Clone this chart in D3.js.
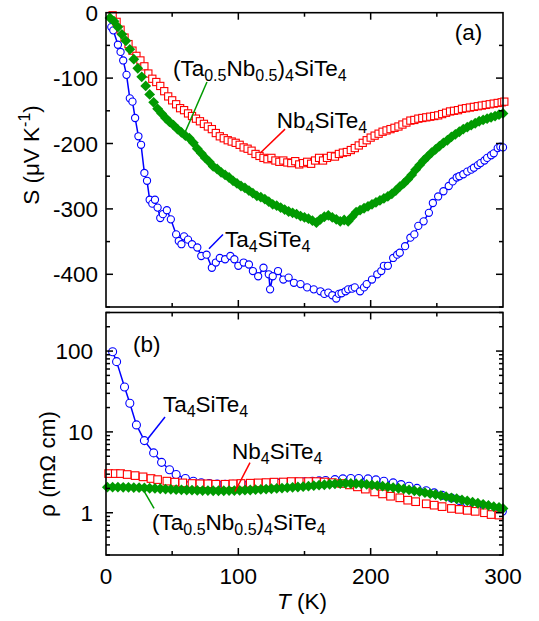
<!DOCTYPE html>
<html><head><meta charset="utf-8">
<script src="https://cdn.jsdelivr.net/npm/d3@7"></script>
<style>body{margin:0;background:#fff}svg{display:block}text{font-family:"Liberation Sans",Arial,sans-serif;fill:#000}</style>
</head><body><svg id="c" width="539" height="621"></svg>
<script>
// ---------- DATA ----------
// Panel (a): Seebeck coefficient S (µV/K) vs T (K)
const nbS_T = [5,8,11,14,17,20,23,26,29,32,35,38,41,44,47,50,53,56,59,62,65,68,71,74,77,80,83,86,89,92,95,98,101,104,107,110,113,116,119,122,125,128,131,134,137,140,143,146,149,152,155,158,161,164,167,170,173,176,179,182,185,188,191,194,197,200,203,206,209,212,215,218,221,224,227,230,233,236,239,242,245,248,251,254,257,260,263,266,269,272,275,278,281,284,287,290,293,296,299,301];
const nbS_V = [-4,-14,-26,-38,-48,-58,-66,-73,-82,-93,-101,-106,-112,-120,-128,-134,-140,-146,-149,-154,-158,-162,-166,-170,-174,-178,-184,-189,-192,-195,-197,-199,-202,-206,-208,-211,-216,-219,-222,-224,-222,-226,-228,-226,-229,-230,-227,-232,-230,-228,-231,-226,-222,-226,-222,-219,-220,-216,-214,-213,-210,-207,-203,-199,-195,-191,-188,-185,-182,-180,-178,-176,-174,-171,-168,-165,-164,-162,-161,-160,-159,-158,-157,-155,-153,-151,-150,-149,-147,-146,-145,-144,-143,-142,-141,-140,-139,-138,-137,-136];

const mixS_T = [3,6,9,12,15,18,21,24,27,30,33,36,39,42,45,48,51,54,57,60,63,66,69,72,75,78,81,84,87,90,93,96,99,102,105,108,111,114,117,120,123,126,129,132,135,138,141,144,147,150,153,156,159,162,165,168,171,174,177,180,183,186,189,192,195,198,201,204,207,210,213,216,219,222,225,228,231,234,237,240,243,246,249,252,255,258,261,264,267,270,273,276,279,282,285,288,291,294,297,300];
const mixS_V = [-8,-13,-22,-33,-43,-56,-71,-85,-98,-112,-125,-137,-147,-154,-161,-167,-172,-178,-183,-188,-192,-199,-208,-215,-222,-228,-235,-239,-244,-248,-252,-257,-261,-265,-268,-272,-276,-280,-282,-285,-289,-293,-295,-298,-301,-304,-306,-308,-311,-313,-315,-318,-321,-316,-312,-310,-313,-316,-319,-317,-319,-312,-305,-302,-299,-296,-293,-290,-287,-284,-281,-277,-272,-266,-261,-255,-248,-240,-233,-226,-220,-214,-209,-204,-199,-195,-190,-186,-182,-178,-175,-172,-169,-166,-164,-162,-160,-158,-156,-154];

const taS_T = [4,5.5,9,11,13,15.5,18,20,22,24.5,26.5,29,31,33,35,37,39,41,43,46,49,53,55,57,59,62,65,69,72,76,80,83,86,90,94,97,100,104,108,111,115,119,123,124,126,130,134,138,142,147,152,157,162,165,168,171,174,176,178,181,183,186,188,192,195,197,201,205,208,210,213,217,220,222,226,230,233,236,240,244,247,251,255,259,262,265,267,270,273,276,278,281,283,286,288,291,293,296,298,300];
const taS_V = [-22,-27,-49,-60,-73,-95,-131,-136,-161,-189,-202,-245,-257,-286,-292,-286,-298,-314,-308,-302,-316,-339,-349,-354,-342,-347,-354,-359,-372,-370,-390,-382,-375,-377,-372,-377,-387,-382,-385,-395,-403,-390,-400,-423,-403,-395,-408,-405,-413,-415,-420,-423,-426,-430,-428,-432,-437,-430,-429,-426,-423,-422,-420,-426,-420,-415,-408,-400,-395,-387,-387,-375,-370,-367,-357,-344,-339,-326,-319,-306,-291,-281,-273,-265,-258,-252,-250,-247,-243,-240,-237,-233,-230,-226,-222,-218,-215,-207,-205,-206];

// Panel (b): resistivity rho (mOhm cm) vs T (K)
const taR_T = [5,8,14,18,23,29,36,42,48,53,60,66,72,78,84,90,96,102,108,114,120,126,132,138,144,150,156,161,166,173,179,185,191,198,204,210,217,223,229,235,242,248,254,261,267,273,279,286,292,299.5];
const taR_V = [98,74,36,22.6,12.2,7.8,5.5,4.2,3.4,2.97,2.65,2.45,2.35,2.3,2.27,2.25,2.25,2.27,2.28,2.3,2.32,2.34,2.36,2.38,2.4,2.42,2.45,2.48,2.5,2.57,2.62,2.65,2.65,2.62,2.55,2.45,2.34,2.23,2.13,2.0,1.87,1.76,1.64,1.52,1.42,1.33,1.24,1.19,1.12,1.04];

const nbR_T = [2,7,11,16,22,28,34,39,46,52,58,65,71,77,83,90,96,102,109,115,121,127,134,140,146,153,159,165,171,178,184,190,196,203,209,215,222,228,234,242,248,254,261,267,273,279,286,291,297];
const nbR_V = [3.05,3.05,3.05,2.97,2.88,2.78,2.65,2.57,2.46,2.39,2.34,2.3,2.28,2.28,2.25,2.25,2.28,2.3,2.32,2.34,2.36,2.39,2.4,2.43,2.43,2.43,2.43,2.4,2.36,2.3,2.21,2.09,1.96,1.81,1.71,1.6,1.53,1.43,1.37,1.29,1.24,1.19,1.13,1.1,1.07,1.04,1.0,0.95,0.935];

const mixR_T = [1,5,9,13,17,21,25,29,33,37,41,45,49,53,57,61,65,69,73,77,81,85,89,93,97,101,105,109,113,117,121,125,129,133,137,141,145,149,153,157,161,165,169,173,177,181,185,189,193,197,201,205,209,213,217,221,225,229,233,237,241,245,249,253,257,261,265,269,273,277,281,285,289,293,297,300];
const mixR_V = [2.07,2.07,2.07,2.06,2.06,2.05,2.04,2.03,2.01,2.0,1.98,1.96,1.95,1.93,1.92,1.91,1.9,1.89,1.88,1.88,1.87,1.87,1.87,1.88,1.88,1.89,1.9,1.91,1.93,1.94,1.96,1.98,2.0,2.02,2.04,2.06,2.08,2.1,2.13,2.16,2.19,2.22,2.25,2.28,2.3,2.31,2.3,2.29,2.27,2.24,2.21,2.17,2.13,2.09,2.05,2.01,1.97,1.92,1.87,1.82,1.77,1.72,1.68,1.63,1.58,1.53,1.49,1.44,1.4,1.35,1.31,1.27,1.23,1.19,1.16,1.13];

// Tick labels
const xTicks = [0,100,200,300];
const sTicks = [0,-100,-200,-300,-400];
const rTicks = [1,10,100];

// Label texts ([text, subscript?])
const lblMix = [["(Ta",0],["0.5",1],["Nb",0],["0.5",1],[")",0],["4",1],["SiTe",0],["4",1]];
const lblNb = [["Nb",0],["4",1],["SiTe",0],["4",1]];
const lblTa = [["Ta",0],["4",1],["SiTe",0],["4",1]];

// Annotation anchors in data coordinates
const annA = {panel:[274,-42], mix:[50.6,-97], mixLine:[[76.3,-106],[58.2,-190]], nb:[129,-176], nbLine:[[135.3,-178],[116.4,-215]], ta:[90,-359], taLine:[[88.4,-339],[77.8,-361]]};
const annB = {panel:[20.4,97], ta:[43,17.7], taLine:[[44.6,15.3],[31,8.0]], nb:[95.2,4.66], nbLine:[[108.8,4.16],[97.5,1.83]], mix:[34.8,0.62], mixLine:[[28,1.94],[36.3,1.13]]};

// ---------- DRAW ----------
const svg = d3.select("#c");
const RED="#ff0000", GREEN="#009a00", BLUE="#0000ff";
const FS=22.5, SUB=16;
const x = d3.scaleLinear().domain([0,300]).range([106,503]);
const yS = d3.scaleLinear().domain([-450,0]).range([307,12.7]);
const yR = d3.scaleLog().domain([0.3,300]).range([555,312.5]);

function zip(a,b){return a.map((v,i)=>[v,b[i]]);}

function label(g, px, py, parts, anchor){
  const t = g.append("text").attr("x",px).attr("y",py).attr("font-size",FS).attr("text-anchor",anchor||"start");
  let shifted=false;
  parts.forEach(([s,sub])=>{
    const ts=t.append("tspan").text(s);
    if(sub){ts.attr("font-size",SUB); if(!shifted){ts.attr("dy",5);shifted=true;}}
    else { if(shifted){ts.attr("dy",-5);shifted=false;} }
  });
  return t;
}

function frame(yScale, y0, y1, majorsY, minorsY){
  const g = svg.append("g");
  const xMaj=[100,200], xMin=[50,150,250];
  const ticks=[];
  xMaj.forEach(v=>{ticks.push([x(v),y1,x(v),y1-7]);ticks.push([x(v),y0,x(v),y0+7]);});
  xMin.forEach(v=>{ticks.push([x(v),y1,x(v),y1-4]);ticks.push([x(v),y0,x(v),y0+4]);});
  majorsY.forEach(v=>{const yy=yScale(v);ticks.push([106,yy,113,yy]);ticks.push([503,yy,496,yy]);});
  minorsY.forEach(v=>{const yy=yScale(v);ticks.push([106,yy,110,yy]);ticks.push([503,yy,499,yy]);});
  g.selectAll("line").data(ticks).join("line")
    .attr("x1",d=>d[0]).attr("y1",d=>d[1]).attr("x2",d=>d[2]).attr("y2",d=>d[3])
    .attr("stroke","#000").attr("stroke-width",1.5);
  g.append("rect").attr("x",106).attr("y",y0).attr("width",397).attr("height",y1-y0)
    .attr("fill","none").attr("stroke","#000").attr("stroke-width",1.6);
}

// ---- Panel (a)
const gA = svg.append("g");
const taS = zip(taS_T,taS_V);
gA.append("path").datum(taS).attr("d",d3.line().x(d=>x(d[0])).y(d=>yS(d[1])))
  .attr("fill","none").attr("stroke",BLUE).attr("stroke-width",1.5);
gA.selectAll("circle.ta").data(taS).join("circle").attr("class","ta")
  .attr("cx",d=>x(d[0])).attr("cy",d=>yS(d[1])).attr("r",3.6)
  .attr("fill","#fff").attr("stroke",BLUE).attr("stroke-width",1.1);
const nbS = zip(nbS_T,nbS_V);
gA.selectAll("rect.nb").data(nbS).join("rect").attr("class","nb")
  .attr("x",d=>x(d[0])-3.6).attr("y",d=>yS(d[1])-3.6).attr("width",7.2).attr("height",7.2)
  .attr("fill","#fff").attr("stroke",RED).attr("stroke-width",1.1);
const diamond = "M0,-5.4L5.4,0L0,5.4L-5.4,0Z";
const mixS = zip(mixS_T,mixS_V);
gA.selectAll("path.mix").data(mixS).join("path").attr("class","mix")
  .attr("transform",d=>`translate(${x(d[0])},${yS(d[1])})`).attr("d",diamond).attr("fill",GREEN);

frame(yS, 12.7, 307, [-400,-300,-200,-100], [-450,-350,-250,-150,-50]);

gA.selectAll("text.yt").data(sTicks).join("text").attr("class","yt")
  .attr("x",98).attr("y",d=>yS(d)).attr("dy","0.36em").attr("text-anchor","end").attr("font-size",FS).text(d=>d);

label(gA, x(annA.panel[0]), yS(annA.panel[1]), [["(a)",0]], "middle");
label(gA, x(annA.mix[0]), yS(annA.mix[1]), lblMix);
label(gA, x(annA.nb[0]), yS(annA.nb[1]), lblNb);
label(gA, x(annA.ta[0]), yS(annA.ta[1]), lblTa);
[[annA.mixLine,GREEN],[annA.nbLine,RED],[annA.taLine,BLUE]].forEach(([l,c])=>{
  gA.append("line").attr("x1",x(l[0][0])).attr("y1",yS(l[0][1])).attr("x2",x(l[1][0])).attr("y2",yS(l[1][1]))
    .attr("stroke",c).attr("stroke-width",1.5);
});
const ya = gA.append("text").attr("transform","translate(39,155) rotate(-90)").attr("text-anchor","middle").attr("font-size",FS);
ya.append("tspan").text("S (μV K");
ya.append("tspan").attr("font-size",SUB).attr("dy",-9).text("-1");
ya.append("tspan").attr("dy",9).text(")");

// ---- Panel (b)
const gB = svg.append("g");
const taR = zip(taR_T,taR_V);
gB.append("path").datum(taR).attr("d",d3.line().x(d=>x(d[0])).y(d=>yR(d[1])))
  .attr("fill","none").attr("stroke",BLUE).attr("stroke-width",1.5);
gB.selectAll("circle.ta").data(taR).join("circle").attr("class","ta")
  .attr("cx",d=>x(d[0])).attr("cy",d=>yR(d[1])).attr("r",4)
  .attr("fill","#fff").attr("stroke",BLUE).attr("stroke-width",1.1);
const nbR = zip(nbR_T,nbR_V);
gB.selectAll("rect.nb").data(nbR).join("rect").attr("class","nb")
  .attr("x",d=>x(d[0])-3.8).attr("y",d=>yR(d[1])-3.8).attr("width",7.6).attr("height",7.6)
  .attr("fill","#fff").attr("stroke",RED).attr("stroke-width",1.1);
const mixR = zip(mixR_T,mixR_V);
gB.selectAll("path.mix").data(mixR).join("path").attr("class","mix")
  .attr("transform",d=>`translate(${x(d[0])},${yR(d[1])})`).attr("d",diamond).attr("fill",GREEN);

const minorsR=[];
[0.1,1,10,100].forEach(dec=>{for(let k=2;k<=9;k++){const v=dec*k; if(v>=0.3&&v<=300) minorsR.push(v);}});
frame(yR, 312.5, 555, rTicks, minorsR);

gB.selectAll("text.yt").data(rTicks).join("text").attr("class","yt")
  .attr("x",93).attr("y",d=>yR(d)).attr("dy","0.36em").attr("text-anchor","end").attr("font-size",FS).text(d=>d);

label(gB, x(annB.panel[0]), yR(annB.panel[1]), [["(b)",0]]);
label(gB, x(annB.ta[0]), yR(annB.ta[1]), lblTa);
label(gB, x(annB.nb[0]), yR(annB.nb[1]), lblNb);
label(gB, x(annB.mix[0]), yR(annB.mix[1]), lblMix);
[[annB.mixLine,GREEN],[annB.nbLine,RED],[annB.taLine,BLUE]].forEach(([l,c])=>{
  gB.append("line").attr("x1",x(l[0][0])).attr("y1",yR(l[0][1])).attr("x2",x(l[1][0])).attr("y2",yR(l[1][1]))
    .attr("stroke",c).attr("stroke-width",1.5);
});
svg.append("text").attr("transform","translate(55,464) rotate(-90)").attr("text-anchor","middle").attr("font-size",FS).text("ρ (mΩ cm)");

svg.selectAll("text.xt").data(xTicks).join("text").attr("class","xt")
  .attr("x",d=>x(d)).attr("y",584).attr("text-anchor","middle").attr("font-size",FS).text(d=>d);
const xl = svg.append("text").attr("x",302).attr("y",609).attr("text-anchor","middle").attr("font-size",FS);
xl.append("tspan").attr("font-style","italic").text("T");
xl.append("tspan").text(" (K)");
</script></body></html>
